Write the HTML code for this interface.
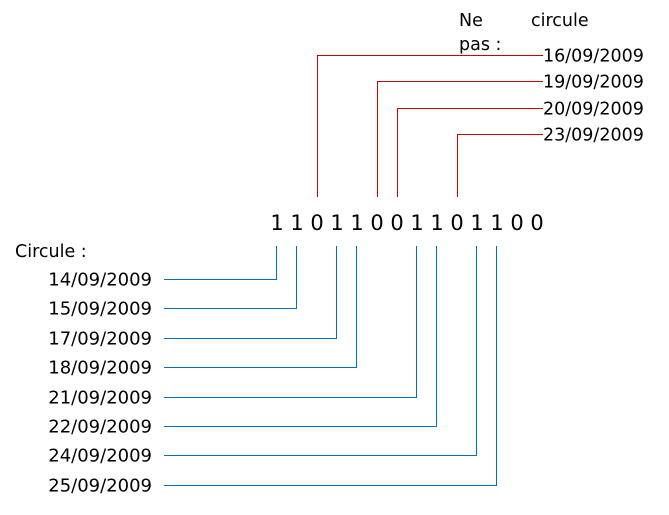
<!DOCTYPE html>
<html><head><meta charset="utf-8"><style>
html,body{margin:0;padding:0;background:#fff;}
svg text{font-family:"DejaVu Sans","Liberation Sans",sans-serif;fill:#000;}
</style></head><body>
<svg id="chart" width="669" height="510" xmlns="http://www.w3.org/2000/svg">
<text x="459" y="26" font-size="17.5">Ne</text>
<text x="531" y="26" font-size="17.5">circule</text>
<text x="459" y="50" font-size="17.5">pas :</text>
<text x="15" y="257" font-size="17.5">Circule :</text>
</svg>
<script>
const bits = [1,1,0,1,1,0,0,1,1,0,1,1,0,0];
const notDates = ["16/09/2009","19/09/2009","20/09/2009","23/09/2009"];
const notIdx = [2,5,6,9];
const yesDates = ["14/09/2009","15/09/2009","17/09/2009","18/09/2009","21/09/2009","22/09/2009","24/09/2009","25/09/2009"];
const yesIdx = [0,1,3,4,7,8,10,11];

const svg = document.getElementById('chart');
const NS = 'http://www.w3.org/2000/svg';
const bx = i => 277 + i*20;
const topY = i => Math.round(55 + i*26.3) + 0.5;
const botY = i => Math.round(279 + i*29.4) + 0.5;
function mk(tag, attrs){const e=document.createElementNS(NS,tag);for(const k in attrs)e.setAttribute(k,attrs[k]);svg.appendChild(e);return e;}

bits.forEach((b,i)=>{
  const t = mk('text',{x:bx(i),y:230,'font-size':21,'text-anchor':'middle'});
  t.textContent = b;
  
  
});
notDates.forEach((d,k)=>{
  const x = bx(notIdx[k]) + 0.5, y = topY(k);
  const p = mk('polyline',{points:`${x},197 ${x},${y} 543,${y}`,fill:'none',stroke:'#cc0000','stroke-width':1});
  
  
  const t = mk('text',{x:543,y:y+6,'font-size':17.5});
  t.textContent = d;
  
  
});
yesDates.forEach((d,k)=>{
  const x = bx(yesIdx[k]) - 0.5, y = botY(k);
  const p = mk('polyline',{points:`${x},246 ${x},${y} 164,${y}`,fill:'none',stroke:'#0070c0','stroke-width':1});
  
  
  const t = mk('text',{x:152,y:y+6,'font-size':18,'text-anchor':'end'});
  t.textContent = d;
  
  
});
</script>
</body></html>
